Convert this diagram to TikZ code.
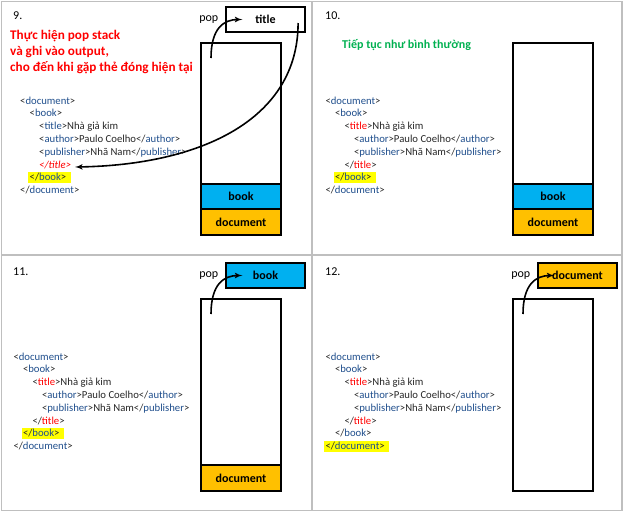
\documentclass[tikz,border=0pt]{standalone}
\usepackage{fontspec}
\setmainfont{Carlito}
\usepackage{xcolor}
\usepackage{tikz}
\usetikzlibrary{positioning}
\usetikzlibrary{arrows}

\definecolor{tagblue}{HTML}{1F4E8C}
\definecolor{codegray}{HTML}{262626}
\definecolor{stackblue}{HTML}{00B0F0}
\definecolor{stackorange}{HTML}{FFC000}
\definecolor{notered}{HTML}{FF0000}
\definecolor{notegreen}{HTML}{00B050}
\definecolor{hlyellow}{HTML}{FFFF00}
\definecolor{panelgray}{HTML}{BFBFBF}

\newcommand{\tg}[1]{\textcolor{tagblue}{#1}}
\newcommand{\op}[1]{<\tg{#1}>}
\newcommand{\cl}[1]{</\tg{#1}>}
\newcommand{\rt}[1]{\textcolor{notered}{#1}}
\newcommand{\hl}[1]{\hspace*{-1.5pt}\smash{\colorbox{hlyellow}{#1\hspace{3pt}}}}
\setlength{\fboxsep}{1.5pt}

\begin{document}
\begin{tikzpicture}[x=1pt, y=-1pt,
		code/.style={anchor=north west, align=left, inner sep=0pt, text=codegray, font=\fontsize{10.7}{12.8}\selectfont},
		num/.style={anchor=base west, inner sep=0pt, font=\fontsize{12}{14}\selectfont},
		note/.style={anchor=north west, align=left, inner sep=0pt, font=\bfseries\fontsize{13.2}{16}\selectfont},
		stack/.style={draw, line width=1.2pt, minimum width=80pt, minimum height=192pt, inner sep=0pt, outer sep=0pt},
		layer/.style={draw, line width=1.2pt, minimum width=80pt, inner sep=0pt, outer sep=0pt, font=\bfseries\fontsize{12}{14}\selectfont},
		popbox/.style={draw, line width=1.2pt, minimum width=79pt, minimum height=25pt, inner sep=0pt, font=\bfseries\fontsize{12}{14}\selectfont},
		poplabel/.style={anchor=base east, inner sep=0pt, font=\fontsize{12}{14}\selectfont},
		poparrow/.style={-latex', line width=1.6pt},
		panel/.style={draw=panelgray, line width=1.6pt}]
		\useasboundingbox (0,0) rectangle (624,512);
		% panel frame
		\draw[panel] (1.5,1.5) rectangle (622,510.5);
		\draw[panel] (312,1.5) -- (312,510.5);
		\draw[panel] (1.5,255) -- (622,255);

		% 9.
		\node[num] (num9) at (13,19) {9.};
		\node[note, text=notered] (note9) at (10,30) {Thực hiện pop stack\\và ghi vào output,\\cho đến khi gặp thẻ đóng hiện tại};
		\node[code] (code9) at (20,96.5) {\op{document}\\
				\hspace*{9.5pt}\op{book}\\
				\hspace*{19pt}\op{title}Nhà giả kim\\
				\hspace*{19pt}\op{author}Paulo Coelho\cl{author}\\
				\hspace*{19pt}\op{publisher}Nhã Nam\cl{publisher}\\
				\hspace*{19pt}\rt{\itshape </title>}\\
				\hspace*{9.5pt}\hl{\cl{book}}\\
				\cl{document}};
		\node[stack] (stack9) at (241,139) {};
		\node[layer, fill=stackorange, minimum height=26pt, above=0pt of stack9.south] (doc9) {document};
		\node[layer, fill=stackblue, minimum height=25pt, above=0pt of doc9] (book9) {book};
		\node[popbox, fill=white] (popped9) at (265.5,19.5) {title};
		\node[poplabel] (pop9) at ([shift={(-7,2)}]popped9.west) {pop};
		\coordinate (from9) at ([shift={(-30,15)}]stack9.north);
		\coordinate (to9) at ([xshift=17pt]popped9.west);
		\coordinate (out9) at ([shift={(-7.5,3.5)}]popped9.east);
		\coordinate (back9) at (75,167);
		\draw[poparrow] (from9) .. controls (211,28) and (224,19.5) .. (to9);
		\draw[poparrow] (out9) .. controls (298,120) and (200,165) .. (back9);

		% 10.
		\begin{scope}[shift={(312,0)}]
			\node[num] (num10) at (13,19) {10.};
			\node[note, anchor=base west, text=notegreen, font=\bfseries\fontsize{12}{15}\selectfont] (note10) at (30,48) {Tiếp tục như bình thường};
			\node[code] (code10) at (13.3,96.5) {\op{document}\\
					\hspace*{9.5pt}\op{book}\\
					\hspace*{19pt}<\rt{title}>Nhà giả kim\\
					\hspace*{28.5pt}\op{author}Paulo Coelho\cl{author}\\
					\hspace*{28.5pt}\op{publisher}Nhã Nam\cl{publisher}\\
					\hspace*{19pt}</\rt{title}>\\
					\hspace*{9.5pt}\hl{\cl{book}}\\
					\cl{document}};
			\node[stack] (stack10) at (241,139) {};
			\node[layer, fill=stackorange, minimum height=26pt, above=0pt of stack10.south] (doc10) {document};
			\node[layer, fill=stackblue, minimum height=25pt, above=0pt of doc10] (book10) {book};
		\end{scope}

		% 11.
		\begin{scope}[shift={(0,256)}]
			\node[num] (num11) at (13,19) {11.};
			\node[code] (code11) at (13.3,96.5) {\op{document}\\
					\hspace*{9.5pt}\op{book}\\
					\hspace*{19pt}<\rt{title}>Nhà giả kim\\
					\hspace*{28.5pt}\op{author}Paulo Coelho\cl{author}\\
					\hspace*{28.5pt}\op{publisher}Nhã Nam\cl{publisher}\\
					\hspace*{19pt}</\rt{title}>\\
					\hspace*{9.5pt}\hl{\cl{book}}\\
					\cl{document}};
			\node[stack] (stack11) at (241,139) {};
			\node[layer, fill=stackorange, minimum height=26pt, above=0pt of stack11.south] (doc11) {document};
			\node[popbox, fill=stackblue] (popped11) at (265.5,19.5) {book};
			\node[poplabel] (pop11) at ([shift={(-7,2)}]popped11.west) {pop};
			\coordinate (from11) at ([shift={(-30,15)}]stack11.north);
			\coordinate (to11) at ([xshift=17pt]popped11.west);
			\draw[poparrow] (from11) .. controls (211,28) and (224,19.5) .. (to11);
		\end{scope}

		% 12.
		\begin{scope}[shift={(312,256)}]
			\node[num] (num12) at (13,19) {12.};
			\node[code] (code12) at (13.3,96.5) {\op{document}\\
					\hspace*{9.5pt}\op{book}\\
					\hspace*{19pt}<\rt{title}>Nhà giả kim\\
					\hspace*{28.5pt}\op{author}Paulo Coelho\cl{author}\\
					\hspace*{28.5pt}\op{publisher}Nhã Nam\cl{publisher}\\
					\hspace*{19pt}</\rt{title}>\\
					\hspace*{9.5pt}\cl{book}\\
					\hl{\cl{document}}};
			\node[stack] (stack12) at (241,139) {};
			\node[popbox, fill=stackorange] (popped12) at (265.5,19.5) {document};
			\node[poplabel] (pop12) at ([shift={(-7,2)}]popped12.west) {pop};
			\coordinate (from12) at ([shift={(-30,15)}]stack12.north);
			\coordinate (to12) at ([xshift=17pt]popped12.west);
			\draw[poparrow] (from12) .. controls (211,28) and (224,19.5) .. (to12);
		\end{scope}
	\end{tikzpicture}
\end{document}
